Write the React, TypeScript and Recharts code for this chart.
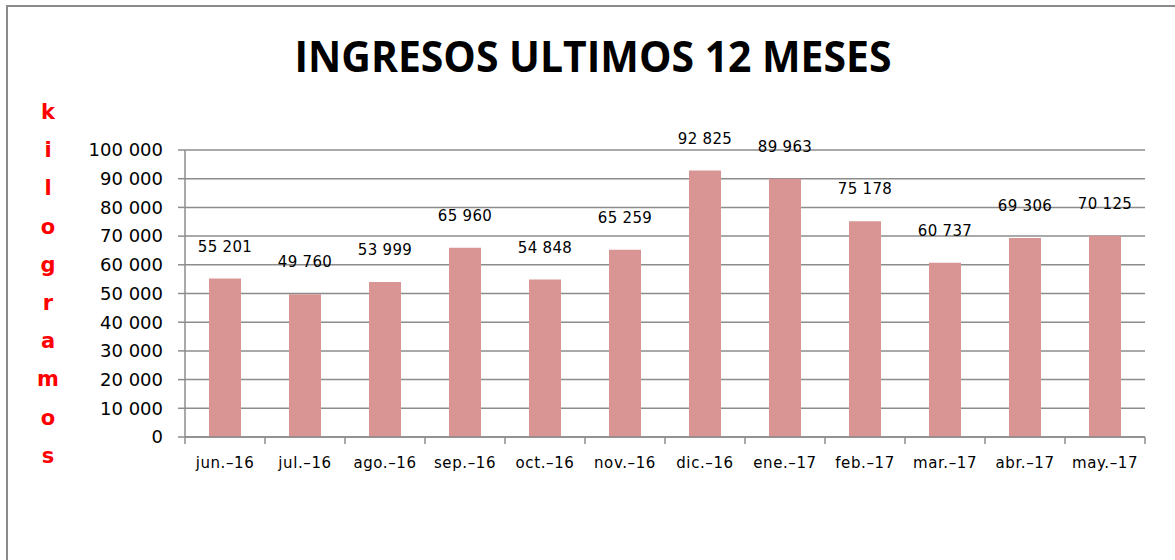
import React from 'react';
import { BarChart, Bar, XAxis, YAxis, CartesianGrid, LabelList } from 'recharts';

const months = ['jun.–16', 'jul.–16', 'ago.–16', 'sep.–16', 'oct.–16', 'nov.–16', 'dic.–16', 'ene.–17', 'feb.–17', 'mar.–17', 'abr.–17', 'may.–17'];
const kilos = [55201, 49760, 53999, 65960, 54848, 65259, 92825, 89963, 75178, 60737, 69306, 70125];
const yTicks = [0, 10000, 20000, 30000, 40000, 50000, 60000, 70000, 80000, 90000, 100000];
const axisLetters = 'kilogramos'.split('');

const data = months.map((m, i) => ({ name: m, value: kilos[i] }));

const fmt = (n: number) => String(n).replace(/\B(?=(\d{3})+(?!\d))/g, ' ');

const FONT = '"DejaVu Sans", Verdana, sans-serif';
const GRID = '#8c8c8c';
const HALF_BAND = (1145 - 185) / months.length / 2;

const MonthTick: React.FC<any> = ({ x, payload, index }) => (
  <g>
    <line x1={x - HALF_BAND} x2={x - HALF_BAND} y1={437} y2={444} stroke={GRID} strokeWidth={1.5} />
    {index === months.length - 1 && (
      <line x1={x + HALF_BAND} x2={x + HALF_BAND} y1={437} y2={444} stroke={GRID} strokeWidth={1.5} />
    )}
    <text x={x} y={468} textAnchor="middle" fontSize={15} letterSpacing={0.6} fontFamily={FONT} fill="#000">
      {payload.value}
    </text>
  </g>
);

const ValueLabel: React.FC<any> = ({ x, y, width, value }) => (
  <text x={x + width / 2} y={y - 27} textAnchor="middle" fontSize={15} letterSpacing={0.3} fontFamily={FONT} fill="#000">
    {fmt(value)}
  </text>
);

export default function App() {
  return (
    <div style={{ position: 'absolute', left: 0, top: 0, width: 1175, height: 560, background: '#fff', overflow: 'hidden' }}>
      <div style={{ position: 'absolute', left: 6, top: 5, width: 1250, height: 650, border: '2px solid #8a8a8a' }} />
      <svg width={1175} height={100} style={{ position: 'absolute', left: 0, top: 0 }}>
        <text x={593} y={72} textAnchor="middle" fontSize={43} fontWeight={700} fontFamily='"Open Sans", sans-serif'
          textLength={597} lengthAdjust="spacingAndGlyphs" fill="#000">
          INGRESOS ULTIMOS 12 MESES
        </text>
      </svg>
      <div style={{ position: 'absolute', left: 28, top: 93, width: 40, textAlign: 'center', color: '#ff0000', fontFamily: FONT, fontWeight: 700, fontSize: 21, lineHeight: '38.2px' }}>
        {axisLetters.map((c, i) => <div key={i}>{c}</div>)}
      </div>
      <div style={{ position: 'absolute', left: 0, top: 0 }}>
        <BarChart width={1175} height={560} data={data} margin={{ top: 150, right: 30, left: 105, bottom: 93 }} barCategoryGap="30%">
          <CartesianGrid vertical={false} stroke={GRID} strokeWidth={1.5} />
          <XAxis dataKey="name" interval={0} height={30} tickLine={false} axisLine={{ stroke: GRID, strokeWidth: 1.5 }} tick={<MonthTick />} />
          <YAxis
            domain={[0, 100000]}
            ticks={yTicks}
            width={80}
            tickSize={7}
            tickMargin={15}
            tickFormatter={fmt}
            tick={{ fontSize: 18, fontFamily: FONT, fill: '#000' }}
            tickLine={{ stroke: GRID, strokeWidth: 1.5 }}
            axisLine={{ stroke: GRID, strokeWidth: 1.5 }}
          />
          <Bar dataKey="value" fill="#D99594" isAnimationActive={false}>
            <LabelList dataKey="value" content={<ValueLabel />} />
          </Bar>
        </BarChart>
      </div>
    </div>
  );
}
